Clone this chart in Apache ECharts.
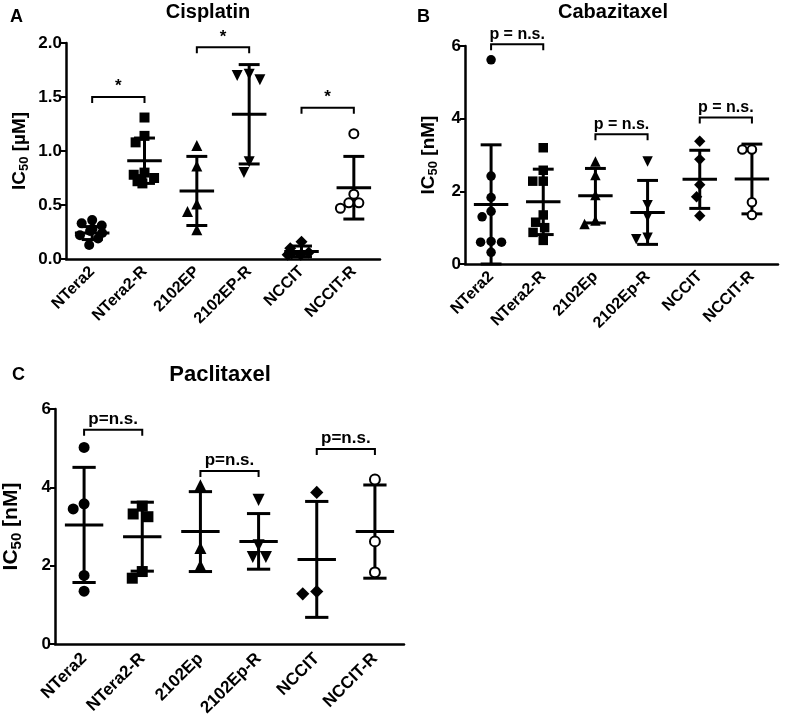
<!DOCTYPE html>
<html>
<head>
<meta charset="utf-8">
<title>IC50</title>
<script src="https://cdn.jsdelivr.net/npm/echarts@6.0.0/dist/echarts.min.js"></script>
<style>
  html, body { margin: 0; padding: 0; background: #fff; }
  #chart { width: 787px; height: 725px; }
</style>
</head>
<body>
<div id="chart"></div>
<script>
var cellsA = ['NTera2', 'NTera2-R', '2102EP', '2102EP-R', 'NCCIT', 'NCCIT-R'];
var cellsBC = ['NTera2', 'NTera2-R', '2102Ep', '2102Ep-R', 'NCCIT', 'NCCIT-R'];

// Cisplatin IC50 [µM], one list per cell line
var cisplatin = [
  [0.36, 0.33, 0.31, 0.28, 0.26, 0.24, 0.22, 0.19, 0.13],
  [1.31, 1.14, 1.08, 0.80, 0.78, 0.75, 0.74, 0.72, 0.70],
  [1.05, 0.86, 0.51, 0.44, 0.27],
  [1.71, 1.70, 1.66, 0.90, 0.80],
  [0.16, 0.10, 0.06, 0.05, 0.05, 0.04, 0.04],
  [1.16, 0.60, 0.52, 0.52, 0.47]
];
var cisplatinMean = [0.24, 0.91, 0.63, 1.34, 0.07, 0.66];
var cisplatinSD = [0.06, 0.21, 0.32, 0.46, 0.05, 0.29];
var cisplatinPairs = [[0, 1, 1.50], [2, 3, 1.96], [4, 5, 1.40]];
var cisplatinPairText = ['*', '*', '*'];

// Cabazitaxel IC50 [nM]
var cabazitaxel = [
  [5.62, 2.42, 1.83, 1.45, 1.30, 0.62, 0.60, 0.60, 0.32],
  [3.20, 2.58, 2.28, 2.28, 1.35, 1.15, 1.00, 0.87, 0.65],
  [2.82, 2.45, 1.90, 1.20, 1.10],
  [2.82, 1.62, 1.30, 0.72, 0.68],
  [3.38, 2.88, 2.18, 1.85, 1.33],
  [3.15, 3.15, 1.70, 1.35]
];
var cabazitaxelMean = [1.64, 1.71, 1.88, 1.42, 2.33, 2.34];
var cabazitaxelSD = [1.64, 0.90, 0.75, 0.88, 0.80, 0.96];
var cabazitaxelPairs = [[0, 1, 6.05], [2, 3, 3.57], [4, 5, 4.03]];
var cabazitaxelPairText = ['p = n.s.', 'p = n.s.', 'p = n.s.'];

// Paclitaxel IC50 [nM]
var paclitaxel = [
  [5.02, 3.58, 3.45, 1.75, 1.35],
  [3.52, 3.32, 3.25, 1.85, 1.68],
  [4.05, 2.45, 2.00],
  [3.68, 2.52, 2.22, 2.22],
  [3.87, 1.34, 1.28],
  [4.20, 2.62, 1.83]
];
var paclitaxelMean = [3.04, 2.74, 2.87, 2.62, 2.16, 2.87];
var paclitaxelSD = [1.47, 0.88, 1.02, 0.71, 1.48, 1.19];
var paclitaxelPairs = [[0, 1, 5.47], [2, 3, 4.42], [4, 5, 4.98]];
var paclitaxelPairText = ['p=n.s.', 'p=n.s.', 'p=n.s.'];

var FONT = '"Liberation Sans", Arial, sans-serif';
var symbols = ['circle', 'rect', 'triangle', 'triangle', 'diamond', 'emptyCircle'];
var symbolTurn = [0, 0, 0, 180, 0, 0];
var symbolSizes = [10, 10, 11, 11, 12, 9];

var chart = echarts.init(document.getElementById('chart'));

function xAxisFor(gi, cats, fs, margin) {
  return {
    type: 'category', gridIndex: gi, data: cats,
    jitter: 30, jitterOverlap: false, jitterMargin: 1,
    axisLine: { lineStyle: { color: '#000', width: 2.5 } },
    axisTick: { alignWithLabel: true, length: 5, lineStyle: { color: '#000', width: 2 } },
    axisLabel: { rotate: 45, margin: margin, color: '#000', fontWeight: 'bold', fontSize: fs, fontFamily: FONT },
    splitLine: { show: false }
  };
}

function yAxisFor(gi, max, step, digits, unit, fs, nameFs, gap) {
  return {
    type: 'value', gridIndex: gi, min: 0, max: max, interval: step,
    name: '{m|IC}{s|50}{m| [' + unit + ']}',
    nameLocation: 'middle', nameRotate: 90, nameGap: gap,
    nameTextStyle: {
      rich: {
        m: { fontSize: nameFs, fontWeight: 'bold', fontFamily: FONT, color: '#000', lineHeight: nameFs + 4 },
        s: { fontSize: Math.round(nameFs * 0.7), fontWeight: 'bold', fontFamily: FONT, color: '#000',
             verticalAlign: 'bottom', lineHeight: Math.round(nameFs * 0.7) }
      }
    },
    axisLine: { show: true, lineStyle: { color: '#000', width: 2.5 } },
    axisTick: { show: true, length: 5, lineStyle: { color: '#000', width: 2 } },
    axisLabel: { margin: 4, color: '#000', fontWeight: 'bold', fontSize: fs, fontFamily: FONT,
      formatter: function (v) { return v.toFixed(digits); } },
    splitLine: { show: false }
  };
}

function pointSeries(gi, groups, scale) {
  return groups.map(function (vals, i) {
    return {
      type: 'scatter', xAxisIndex: gi, yAxisIndex: gi, z: 4,
      symbol: symbols[i], symbolRotate: symbolTurn[i],
      symbolSize: symbolSizes[i] * scale,
      itemStyle: { color: '#000', borderColor: '#000', borderWidth: i === 5 ? 3.4 : 0, opacity: 1 },
      data: vals.map(function (v) { return [i, v]; })
    };
  });
}

function meanSdSeries(gi, means, sds) {
  return {
    type: 'custom', xAxisIndex: gi, yAxisIndex: gi, z: 3, silent: true,
    data: means.map(function (m, i) { return [i, m, sds[i]]; }),
    encode: { x: 0, y: 1 },
    renderItem: function (params, api) {
      var i = api.value(0), m = api.value(1), s = api.value(2);
      var c = api.coord([i, m]);
      var top = api.coord([i, m + s])[1];
      var bot = api.coord([i, m - s])[1];
      var band = api.coord([1, 0])[0] - api.coord([0, 0])[0];
      var mw = band * 0.33, cw = band * 0.2;
      var st = { stroke: '#000', lineWidth: 3 };
      return {
        type: 'group',
        children: [
          { type: 'line', shape: { x1: c[0], y1: top, x2: c[0], y2: bot }, style: st },
          { type: 'line', shape: { x1: c[0] - mw, y1: c[1], x2: c[0] + mw, y2: c[1] }, style: st },
          { type: 'line', shape: { x1: c[0] - cw, y1: top, x2: c[0] + cw, y2: top }, style: st },
          { type: 'line', shape: { x1: c[0] - cw, y1: bot, x2: c[0] + cw, y2: bot }, style: st }
        ]
      };
    }
  };
}

function pairSeries(gi, pairs, texts, fs) {
  return {
    type: 'custom', xAxisIndex: gi, yAxisIndex: gi, z: 3, silent: true,
    data: pairs,
    encode: { x: [0, 1], y: 2 },
    renderItem: function (params, api) {
      var p0 = api.coord([api.value(0), api.value(2)]);
      var p1 = api.coord([api.value(1), api.value(2)]);
      return {
        type: 'group',
        children: [
          { type: 'polyline',
            shape: { points: [[p0[0], p0[1] + 6], [p0[0], p0[1]], [p1[0], p1[1]], [p1[0], p1[1] + 6]] },
            style: { stroke: '#000', lineWidth: 2, fill: null } },
          { type: 'text', x: (p0[0] + p1[0]) / 2, y: p0[1] - 2,
            style: { text: texts[params.dataIndex], align: 'center', verticalAlign: 'bottom',
                     fontSize: fs, fontWeight: 'bold', fontFamily: FONT, fill: '#000' } }
        ]
      };
    }
  };
}

function label(text, x, y, fs, align) {
  return { type: 'text', x: x, y: y,
    style: { text: text, align: align, verticalAlign: 'middle', fontSize: fs, fontWeight: 'bold', fontFamily: FONT, fill: '#000' } };
}

var series = []
  .concat(pointSeries(0, cisplatin, 1))
  .concat(pointSeries(1, cabazitaxel, 0.95))
  .concat(pointSeries(2, paclitaxel, 1.1))
  .concat([
    meanSdSeries(0, cisplatinMean, cisplatinSD),
    meanSdSeries(1, cabazitaxelMean, cabazitaxelSD),
    meanSdSeries(2, paclitaxelMean, paclitaxelSD),
    pairSeries(0, cisplatinPairs, cisplatinPairText, 17),
    pairSeries(1, cabazitaxelPairs, cabazitaxelPairText, 16),
    pairSeries(2, paclitaxelPairs, paclitaxelPairText, 17)
  ]);

chart.setOption({
  animation: false,
  backgroundColor: '#fff',
  grid: [
    { left: 66, top: 43, width: 314, height: 216 },
    { left: 465, top: 46, width: 313, height: 218 },
    { left: 53, top: 409, width: 351, height: 235 }
  ],
  xAxis: [
    xAxisFor(0, cellsA, 16, 10),
    xAxisFor(1, cellsBC, 16, 10),
    xAxisFor(2, cellsBC, 17, 12)
  ],
  yAxis: [
    yAxisFor(0, 2, 0.5, 1, 'µM', 17, 19, 35),
    yAxisFor(1, 6, 2, 0, 'nM', 17, 19, 25),
    yAxisFor(2, 6, 2, 0, 'nM', 17, 21, 31)
  ],
  graphic: [
    label('A', 10, 17, 18, 'left'),
    label('Cisplatin', 208, 12, 20, 'center'),
    label('B', 417, 17, 18, 'left'),
    label('Cabazitaxel', 613, 12, 20, 'center'),
    label('C', 12, 375, 18, 'left'),
    label('Paclitaxel', 220, 375, 22, 'center')
  ],
  series: series
});
</script>
</body>
</html>
